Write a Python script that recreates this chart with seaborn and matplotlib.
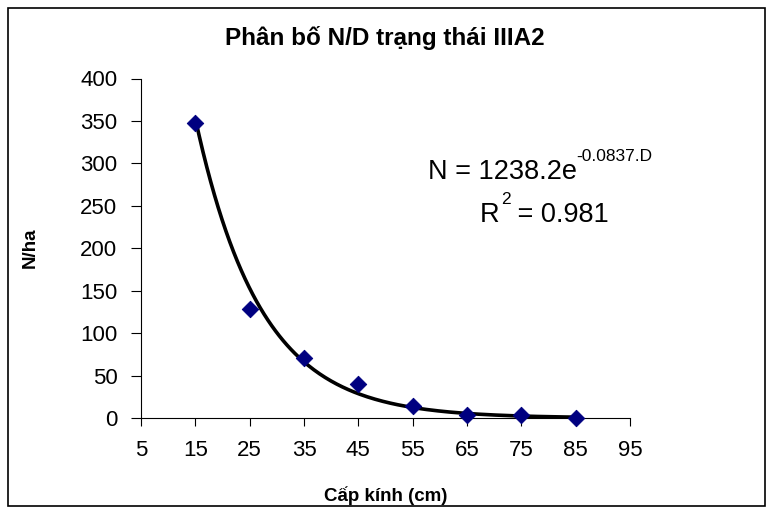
import numpy as np
import pandas as pd
import matplotlib
matplotlib.use("Agg")
import matplotlib.pyplot as plt
import seaborn as sns
from matplotlib.patches import Rectangle

# Data
cap_kinh = [15, 25, 35, 45, 55, 65, 75, 85]
n_ha = [348, 129, 71, 40, 14, 3, 3, 0]
fit_a = 1238.2
fit_b = 0.0837
x_ticks = [5, 15, 25, 35, 45, 55, 65, 75, 85, 95]
y_ticks = [0, 50, 100, 150, 200, 250, 300, 350, 400]
eq_main = "N = 1238.2e"
eq_sup = "-0.0837.D"
r2_main = "R"
r2_sup = "2"
r2_rest = " = 0.981"

sns.set_theme(style="white")
plt.rcParams['font.family'] = ['Liberation Sans', 'DejaVu Sans']
for k in ["text.color", "axes.labelcolor", "xtick.color", "ytick.color"]:
    plt.rcParams[k] = "black"

W, H = 773, 512
fig = plt.figure(figsize=(W/100, H/100), dpi=100)
ax = fig.add_axes([141/W, 1-418/H, (630-141)/W, (418-78.5)/H])

df = pd.DataFrame({"D": cap_kinh, "N": n_ha})
dd = np.linspace(min(cap_kinh), max(cap_kinh), 200)
fit = pd.DataFrame({"D": dd, "N": fit_a*np.exp(-fit_b*dd)})

sns.lineplot(data=fit, x="D", y="N", ax=ax, color="black", linewidth=2.6, zorder=2)
sns.scatterplot(data=df, x="D", y="N", ax=ax, marker="D", color="#000080",
                s=70, edgecolor="#000080", zorder=3, clip_on=False)

ax.set_xlim(5, 95)
ax.set_ylim(0, 400)
ax.set_xticks(x_ticks)
ax.set_yticks(y_ticks)
ax.set_xticklabels([str(v) for v in x_ticks], fontsize=16)
ax.set_yticklabels([str(v) for v in y_ticks], fontsize=16)
for s in ["top", "right"]:
    ax.spines[s].set_visible(False)
for s in ["left", "bottom"]:
    ax.spines[s].set_color("black")
    ax.spines[s].set_linewidth(0.8)
ax.tick_params(axis="x", direction="out", length=6, width=0.8, color="black",
               bottom=True, pad=10)
ax.tick_params(axis="y", direction="out", length=7, width=0.8, color="black",
               left=True, pad=10)
ax.set_xlabel("Cấp kính (cm)", fontsize=13.5, fontweight="bold", labelpad=18)
ax.set_ylabel("N/ha", fontsize=13.5, fontweight="bold", labelpad=30)
fig.text(385/W, 1-38/H, "Phân bố N/D trạng thái IIIA2", fontsize=17.5,
         fontweight="bold", ha="center", va="center")

# Trendline equation
r = fig.canvas.get_renderer()
t1 = fig.text(428/W, 1-179/H, eq_main, fontsize=19.5, ha="left", va="baseline")
fig.canvas.draw()
bb = t1.get_window_extent(r)
fig.text((bb.x1 - 1)/W, 1-161/H, eq_sup, fontsize=12.5, ha="left", va="baseline")

t2 = fig.text(480/W, 1-222/H, r2_main, fontsize=19.5, ha="left", va="baseline")
fig.canvas.draw()
bb2 = t2.get_window_extent(r)
t3 = fig.text((bb2.x1 + 1)/W, 1-204/H, r2_sup, fontsize=12.5, ha="left", va="baseline")
fig.canvas.draw()
bb3 = t3.get_window_extent(r)
fig.text(bb3.x1/W, 1-222/H, r2_rest, fontsize=19.5, ha="left", va="baseline")

fig.patches.append(Rectangle((8/W, 1-506/H), (765-8)/W, (506-8)/H,
                             transform=fig.transFigure, fill=False, edgecolor="black", linewidth=1.2))

fig.savefig("out.png", dpi=100)
